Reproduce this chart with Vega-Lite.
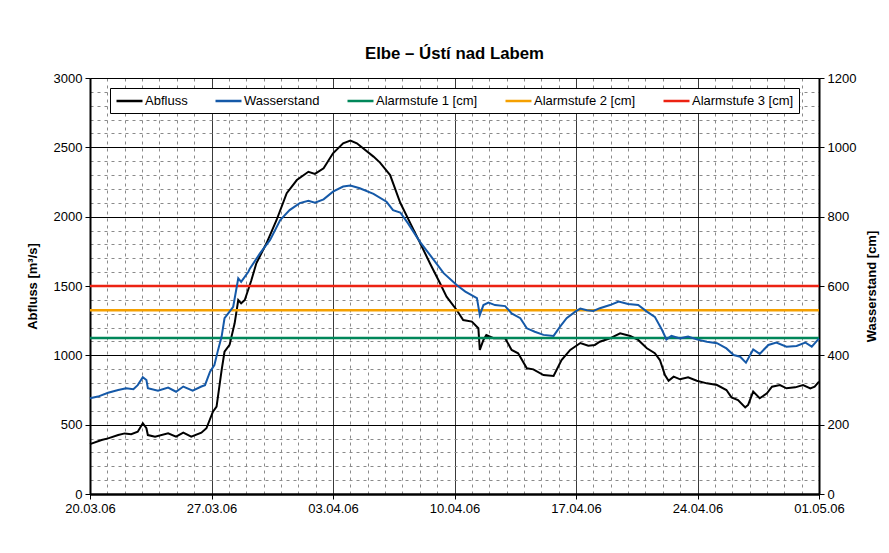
{
  "$schema": "https://vega.github.io/schema/vega-lite/v6.json",
  "width": 729,
  "height": 416,
  "autosize": {"type": "none"},
  "padding": {"left": 90, "top": 78, "right": 70, "bottom": 59},
  "background": "white",
  "title": {"text": "Elbe – Ústí nad Labem", "font": "Liberation Sans", "fontSize": 16.8, "fontWeight": "bold", "color": "black", "offset": 9},
  "config": {
    "font": "Liberation Sans",
    "view": {"stroke": null},
    "axis": {"labelFont": "Liberation Sans", "labelFontSize": 13, "labelColor": "black", "titleFont": "Liberation Sans", "titleFontSize": 13, "titleFontWeight": "bold", "titleColor": "black", "domainColor": "black", "tickColor": "black", "tickSize": 5, "labelPadding": 3}
  },
  "datasets": {
    "abfluss": [
      {"datum": "2006-03-20T00:00", "serie": "Abfluss", "wert": 360},
      {"datum": "2006-03-20T16:00", "serie": "Abfluss", "wert": 389},
      {"datum": "2006-03-21T01:00", "serie": "Abfluss", "wert": 401},
      {"datum": "2006-03-21T15:00", "serie": "Abfluss", "wert": 425},
      {"datum": "2006-03-22T00:00", "serie": "Abfluss", "wert": 437},
      {"datum": "2006-03-22T09:00", "serie": "Abfluss", "wert": 431},
      {"datum": "2006-03-22T18:00", "serie": "Abfluss", "wert": 449},
      {"datum": "2006-03-23T01:00", "serie": "Abfluss", "wert": 510},
      {"datum": "2006-03-23T06:00", "serie": "Abfluss", "wert": 474},
      {"datum": "2006-03-23T08:00", "serie": "Abfluss", "wert": 425},
      {"datum": "2006-03-23T18:00", "serie": "Abfluss", "wert": 413},
      {"datum": "2006-03-24T12:00", "serie": "Abfluss", "wert": 437},
      {"datum": "2006-03-24T23:00", "serie": "Abfluss", "wert": 413},
      {"datum": "2006-03-25T09:00", "serie": "Abfluss", "wert": 442},
      {"datum": "2006-03-25T20:00", "serie": "Abfluss", "wert": 413},
      {"datum": "2006-03-26T10:00", "serie": "Abfluss", "wert": 442},
      {"datum": "2006-03-26T17:00", "serie": "Abfluss", "wert": 474},
      {"datum": "2006-03-27T02:00", "serie": "Abfluss", "wert": 594},
      {"datum": "2006-03-27T07:00", "serie": "Abfluss", "wert": 630},
      {"datum": "2006-03-27T14:00", "serie": "Abfluss", "wert": 894},
      {"datum": "2006-03-27T18:00", "serie": "Abfluss", "wert": 1026},
      {"datum": "2006-03-28T01:00", "serie": "Abfluss", "wert": 1075},
      {"datum": "2006-03-28T08:00", "serie": "Abfluss", "wert": 1231},
      {"datum": "2006-03-28T13:00", "serie": "Abfluss", "wert": 1399},
      {"datum": "2006-03-28T17:00", "serie": "Abfluss", "wert": 1375},
      {"datum": "2006-03-28T22:00", "serie": "Abfluss", "wert": 1399},
      {"datum": "2006-03-29T07:00", "serie": "Abfluss", "wert": 1540},
      {"datum": "2006-03-29T14:00", "serie": "Abfluss", "wert": 1664},
      {"datum": "2006-03-30T04:00", "serie": "Abfluss", "wert": 1808},
      {"datum": "2006-03-30T18:00", "serie": "Abfluss", "wert": 1976},
      {"datum": "2006-03-31T08:00", "serie": "Abfluss", "wert": 2169},
      {"datum": "2006-03-31T22:00", "serie": "Abfluss", "wert": 2264},
      {"datum": "2006-04-01T14:00", "serie": "Abfluss", "wert": 2324},
      {"datum": "2006-04-01T23:00", "serie": "Abfluss", "wert": 2308},
      {"datum": "2006-04-02T11:00", "serie": "Abfluss", "wert": 2349},
      {"datum": "2006-04-03T00:00", "serie": "Abfluss", "wert": 2457},
      {"datum": "2006-04-03T14:00", "serie": "Abfluss", "wert": 2529},
      {"datum": "2006-04-04T00:00", "serie": "Abfluss", "wert": 2548},
      {"datum": "2006-04-04T09:00", "serie": "Abfluss", "wert": 2529},
      {"datum": "2006-04-05T08:00", "serie": "Abfluss", "wert": 2433},
      {"datum": "2006-04-05T17:00", "serie": "Abfluss", "wert": 2390},
      {"datum": "2006-04-06T07:00", "serie": "Abfluss", "wert": 2300},
      {"datum": "2006-04-06T21:00", "serie": "Abfluss", "wert": 2100},
      {"datum": "2006-04-07T11:00", "serie": "Abfluss", "wert": 1952},
      {"datum": "2006-04-08T00:00", "serie": "Abfluss", "wert": 1815},
      {"datum": "2006-04-08T14:00", "serie": "Abfluss", "wert": 1664},
      {"datum": "2006-04-09T04:00", "serie": "Abfluss", "wert": 1520},
      {"datum": "2006-04-09T13:00", "serie": "Abfluss", "wert": 1423},
      {"datum": "2006-04-10T03:00", "serie": "Abfluss", "wert": 1327},
      {"datum": "2006-04-10T12:00", "serie": "Abfluss", "wert": 1255},
      {"datum": "2006-04-11T00:00", "serie": "Abfluss", "wert": 1243},
      {"datum": "2006-04-11T09:00", "serie": "Abfluss", "wert": 1195},
      {"datum": "2006-04-11T11:00", "serie": "Abfluss", "wert": 1039},
      {"datum": "2006-04-11T16:00", "serie": "Abfluss", "wert": 1111},
      {"datum": "2006-04-11T20:00", "serie": "Abfluss", "wert": 1147},
      {"datum": "2006-04-12T06:00", "serie": "Abfluss", "wert": 1123},
      {"datum": "2006-04-12T22:00", "serie": "Abfluss", "wert": 1123},
      {"datum": "2006-04-13T07:00", "serie": "Abfluss", "wert": 1039},
      {"datum": "2006-04-13T16:00", "serie": "Abfluss", "wert": 1015},
      {"datum": "2006-04-14T04:00", "serie": "Abfluss", "wert": 907},
      {"datum": "2006-04-14T13:00", "serie": "Abfluss", "wert": 899},
      {"datum": "2006-04-15T03:00", "serie": "Abfluss", "wert": 858},
      {"datum": "2006-04-15T17:00", "serie": "Abfluss", "wert": 851},
      {"datum": "2006-04-16T04:00", "serie": "Abfluss", "wert": 966},
      {"datum": "2006-04-16T16:00", "serie": "Abfluss", "wert": 1039},
      {"datum": "2006-04-17T06:00", "serie": "Abfluss", "wert": 1089},
      {"datum": "2006-04-17T17:00", "serie": "Abfluss", "wert": 1070},
      {"datum": "2006-04-18T02:00", "serie": "Abfluss", "wert": 1075},
      {"datum": "2006-04-18T09:00", "serie": "Abfluss", "wert": 1098},
      {"datum": "2006-04-18T23:00", "serie": "Abfluss", "wert": 1123},
      {"datum": "2006-04-19T13:00", "serie": "Abfluss", "wert": 1159},
      {"datum": "2006-04-20T03:00", "serie": "Abfluss", "wert": 1139},
      {"datum": "2006-04-20T14:00", "serie": "Abfluss", "wert": 1111},
      {"datum": "2006-04-21T02:00", "serie": "Abfluss", "wert": 1051},
      {"datum": "2006-04-21T13:00", "serie": "Abfluss", "wert": 1015},
      {"datum": "2006-04-21T20:00", "serie": "Abfluss", "wert": 966},
      {"datum": "2006-04-22T03:00", "serie": "Abfluss", "wert": 858},
      {"datum": "2006-04-22T08:00", "serie": "Abfluss", "wert": 817},
      {"datum": "2006-04-22T15:00", "serie": "Abfluss", "wert": 846},
      {"datum": "2006-04-23T00:00", "serie": "Abfluss", "wert": 827},
      {"datum": "2006-04-23T11:00", "serie": "Abfluss", "wert": 842},
      {"datum": "2006-04-23T23:00", "serie": "Abfluss", "wert": 817},
      {"datum": "2006-04-24T13:00", "serie": "Abfluss", "wert": 798},
      {"datum": "2006-04-25T03:00", "serie": "Abfluss", "wert": 786},
      {"datum": "2006-04-25T16:00", "serie": "Abfluss", "wert": 750},
      {"datum": "2006-04-25T23:00", "serie": "Abfluss", "wert": 697},
      {"datum": "2006-04-26T08:00", "serie": "Abfluss", "wert": 678},
      {"datum": "2006-04-26T18:00", "serie": "Abfluss", "wert": 625},
      {"datum": "2006-04-26T22:00", "serie": "Abfluss", "wert": 642},
      {"datum": "2006-04-27T05:00", "serie": "Abfluss", "wert": 738},
      {"datum": "2006-04-27T14:00", "serie": "Abfluss", "wert": 690},
      {"datum": "2006-04-28T00:00", "serie": "Abfluss", "wert": 726},
      {"datum": "2006-04-28T07:00", "serie": "Abfluss", "wert": 774},
      {"datum": "2006-04-28T18:00", "serie": "Abfluss", "wert": 786},
      {"datum": "2006-04-29T03:00", "serie": "Abfluss", "wert": 762},
      {"datum": "2006-04-29T15:00", "serie": "Abfluss", "wert": 769},
      {"datum": "2006-04-30T02:00", "serie": "Abfluss", "wert": 786},
      {"datum": "2006-04-30T12:00", "serie": "Abfluss", "wert": 762},
      {"datum": "2006-04-30T18:00", "serie": "Abfluss", "wert": 774},
      {"datum": "2006-05-01T00:00", "serie": "Abfluss", "wert": 810}
    ],
    "wasser": [
      {"datum": "2006-03-20T00:00", "serie": "Wasserstand", "wert": 276},
      {"datum": "2006-03-20T11:00", "serie": "Wasserstand", "wert": 281},
      {"datum": "2006-03-21T01:00", "serie": "Wasserstand", "wert": 292},
      {"datum": "2006-03-21T15:00", "serie": "Wasserstand", "wert": 300},
      {"datum": "2006-03-22T02:00", "serie": "Wasserstand", "wert": 305},
      {"datum": "2006-03-22T12:00", "serie": "Wasserstand", "wert": 302},
      {"datum": "2006-03-22T18:00", "serie": "Wasserstand", "wert": 314},
      {"datum": "2006-03-23T01:00", "serie": "Wasserstand", "wert": 337},
      {"datum": "2006-03-23T06:00", "serie": "Wasserstand", "wert": 329},
      {"datum": "2006-03-23T08:00", "serie": "Wasserstand", "wert": 305},
      {"datum": "2006-03-23T22:00", "serie": "Wasserstand", "wert": 298},
      {"datum": "2006-03-24T12:00", "serie": "Wasserstand", "wert": 307},
      {"datum": "2006-03-24T23:00", "serie": "Wasserstand", "wert": 295},
      {"datum": "2006-03-25T09:00", "serie": "Wasserstand", "wert": 310},
      {"datum": "2006-03-25T22:00", "serie": "Wasserstand", "wert": 298},
      {"datum": "2006-03-26T10:00", "serie": "Wasserstand", "wert": 310},
      {"datum": "2006-03-26T15:00", "serie": "Wasserstand", "wert": 314},
      {"datum": "2006-03-26T22:00", "serie": "Wasserstand", "wert": 353},
      {"datum": "2006-03-27T04:00", "serie": "Wasserstand", "wert": 372},
      {"datum": "2006-03-27T09:00", "serie": "Wasserstand", "wert": 415},
      {"datum": "2006-03-27T14:00", "serie": "Wasserstand", "wert": 454},
      {"datum": "2006-03-27T18:00", "serie": "Wasserstand", "wert": 507},
      {"datum": "2006-03-28T01:00", "serie": "Wasserstand", "wert": 526},
      {"datum": "2006-03-28T06:00", "serie": "Wasserstand", "wert": 540},
      {"datum": "2006-03-28T13:00", "serie": "Wasserstand", "wert": 622},
      {"datum": "2006-03-28T17:00", "serie": "Wasserstand", "wert": 612},
      {"datum": "2006-03-29T03:00", "serie": "Wasserstand", "wert": 641},
      {"datum": "2006-03-29T05:00", "serie": "Wasserstand", "wert": 650},
      {"datum": "2006-03-29T19:00", "serie": "Wasserstand", "wert": 694},
      {"datum": "2006-03-30T09:00", "serie": "Wasserstand", "wert": 733},
      {"datum": "2006-03-30T23:00", "serie": "Wasserstand", "wert": 790},
      {"datum": "2006-03-31T12:00", "serie": "Wasserstand", "wert": 819},
      {"datum": "2006-04-01T02:00", "serie": "Wasserstand", "wert": 839},
      {"datum": "2006-04-01T14:00", "serie": "Wasserstand", "wert": 846},
      {"datum": "2006-04-01T23:00", "serie": "Wasserstand", "wert": 840},
      {"datum": "2006-04-02T11:00", "serie": "Wasserstand", "wert": 850},
      {"datum": "2006-04-03T00:00", "serie": "Wasserstand", "wert": 872},
      {"datum": "2006-04-03T14:00", "serie": "Wasserstand", "wert": 887},
      {"datum": "2006-04-04T00:00", "serie": "Wasserstand", "wert": 890},
      {"datum": "2006-04-04T13:00", "serie": "Wasserstand", "wert": 882},
      {"datum": "2006-04-05T08:00", "serie": "Wasserstand", "wert": 866},
      {"datum": "2006-04-06T02:00", "serie": "Wasserstand", "wert": 843},
      {"datum": "2006-04-06T11:00", "serie": "Wasserstand", "wert": 819},
      {"datum": "2006-04-06T21:00", "serie": "Wasserstand", "wert": 812},
      {"datum": "2006-04-07T08:00", "serie": "Wasserstand", "wert": 780},
      {"datum": "2006-04-08T00:00", "serie": "Wasserstand", "wert": 728},
      {"datum": "2006-04-08T14:00", "serie": "Wasserstand", "wert": 690},
      {"datum": "2006-04-09T09:00", "serie": "Wasserstand", "wert": 637},
      {"datum": "2006-04-10T03:00", "serie": "Wasserstand", "wert": 603},
      {"datum": "2006-04-10T15:00", "serie": "Wasserstand", "wert": 584},
      {"datum": "2006-04-11T07:00", "serie": "Wasserstand", "wert": 565},
      {"datum": "2006-04-11T11:00", "serie": "Wasserstand", "wert": 516},
      {"datum": "2006-04-11T16:00", "serie": "Wasserstand", "wert": 545},
      {"datum": "2006-04-11T23:00", "serie": "Wasserstand", "wert": 552},
      {"datum": "2006-04-12T08:00", "serie": "Wasserstand", "wert": 545},
      {"datum": "2006-04-12T22:00", "serie": "Wasserstand", "wert": 542},
      {"datum": "2006-04-13T07:00", "serie": "Wasserstand", "wert": 521},
      {"datum": "2006-04-13T19:00", "serie": "Wasserstand", "wert": 507},
      {"datum": "2006-04-14T04:00", "serie": "Wasserstand", "wert": 478},
      {"datum": "2006-04-14T15:00", "serie": "Wasserstand", "wert": 468},
      {"datum": "2006-04-15T03:00", "serie": "Wasserstand", "wert": 459},
      {"datum": "2006-04-15T17:00", "serie": "Wasserstand", "wert": 456},
      {"datum": "2006-04-16T02:00", "serie": "Wasserstand", "wert": 483},
      {"datum": "2006-04-16T11:00", "serie": "Wasserstand", "wert": 507},
      {"datum": "2006-04-16T23:00", "serie": "Wasserstand", "wert": 526},
      {"datum": "2006-04-17T06:00", "serie": "Wasserstand", "wert": 535},
      {"datum": "2006-04-17T15:00", "serie": "Wasserstand", "wert": 530},
      {"datum": "2006-04-18T00:00", "serie": "Wasserstand", "wert": 528},
      {"datum": "2006-04-18T09:00", "serie": "Wasserstand", "wert": 536},
      {"datum": "2006-04-18T23:00", "serie": "Wasserstand", "wert": 545},
      {"datum": "2006-04-19T11:00", "serie": "Wasserstand", "wert": 555},
      {"datum": "2006-04-20T00:00", "serie": "Wasserstand", "wert": 548},
      {"datum": "2006-04-20T14:00", "serie": "Wasserstand", "wert": 545},
      {"datum": "2006-04-21T02:00", "serie": "Wasserstand", "wert": 526},
      {"datum": "2006-04-21T13:00", "serie": "Wasserstand", "wert": 511},
      {"datum": "2006-04-21T23:00", "serie": "Wasserstand", "wert": 473},
      {"datum": "2006-04-22T05:00", "serie": "Wasserstand", "wert": 446},
      {"datum": "2006-04-22T12:00", "serie": "Wasserstand", "wert": 456},
      {"datum": "2006-04-23T00:00", "serie": "Wasserstand", "wert": 449},
      {"datum": "2006-04-23T11:00", "serie": "Wasserstand", "wert": 454},
      {"datum": "2006-04-23T23:00", "serie": "Wasserstand", "wert": 446},
      {"datum": "2006-04-24T13:00", "serie": "Wasserstand", "wert": 439},
      {"datum": "2006-04-25T03:00", "serie": "Wasserstand", "wert": 435},
      {"datum": "2006-04-25T16:00", "serie": "Wasserstand", "wert": 420},
      {"datum": "2006-04-26T02:00", "serie": "Wasserstand", "wert": 401},
      {"datum": "2006-04-26T11:00", "serie": "Wasserstand", "wert": 396},
      {"datum": "2006-04-26T19:00", "serie": "Wasserstand", "wert": 379},
      {"datum": "2006-04-27T05:00", "serie": "Wasserstand", "wert": 417},
      {"datum": "2006-04-27T14:00", "serie": "Wasserstand", "wert": 404},
      {"datum": "2006-04-28T02:00", "serie": "Wasserstand", "wert": 430},
      {"datum": "2006-04-28T13:00", "serie": "Wasserstand", "wert": 437},
      {"datum": "2006-04-29T03:00", "serie": "Wasserstand", "wert": 425},
      {"datum": "2006-04-29T17:00", "serie": "Wasserstand", "wert": 427},
      {"datum": "2006-04-30T05:00", "serie": "Wasserstand", "wert": 437},
      {"datum": "2006-04-30T14:00", "serie": "Wasserstand", "wert": 425},
      {"datum": "2006-04-30T22:00", "serie": "Wasserstand", "wert": 444},
      {"datum": "2006-05-01T00:00", "serie": "Wasserstand", "wert": 448}
    ],
    "alarm": [
      {"datum": "2006-03-20T00:00", "serie": "Alarmstufe 1 [cm]", "wert": 450},
      {"datum": "2006-05-01T00:00", "serie": "Alarmstufe 1 [cm]", "wert": 450},
      {"datum": "2006-03-20T00:00", "serie": "Alarmstufe 2 [cm]", "wert": 530},
      {"datum": "2006-05-01T00:00", "serie": "Alarmstufe 2 [cm]", "wert": 530},
      {"datum": "2006-03-20T00:00", "serie": "Alarmstufe 3 [cm]", "wert": 600},
      {"datum": "2006-05-01T00:00", "serie": "Alarmstufe 3 [cm]", "wert": 600}
    ]
  },
  "layer": [
    {
      "data": {"name": "abfluss"},
      "mark": {"type": "line", "strokeWidth": 2, "interpolate": "linear"},
      "encoding": {
        "x": {
          "field": "datum", "type": "temporal",
          "scale": {"domain": [{"year": 2006, "month": 3, "date": 20}, {"year": 2006, "month": 5, "date": 1}], "nice": false},
          "axis": {
            "title": null,
            "format": "%d.%m.%y",
            "tickCount": {"interval": "day", "step": 1},
            "labelExpr": "day(datum.value) === 1 ? datum.label : ''",
            "labelOverlap": false,
            "labelBound": false,
            "labelFlush": false,
            "labelPadding": 3,
            "domainWidth": 2.5,
            "tickOpacity": {"condition": {"test": "day(datum.value) === 1", "value": 1}, "value": 0},
            "grid": true,
            "gridColor": {"condition": {"test": "day(datum.value) === 1", "value": "#3a3a3a"}, "value": "#8a8a8a"},
            "gridDash": {"condition": {"test": "day(datum.value) === 1", "value": []}, "value": [3, 4]},
            "gridWidth": 1,
            "gridOpacity": 1
          }
        },
        "y": {
          "field": "wert", "type": "quantitative",
          "scale": {"domain": [0, 3000], "nice": false},
          "axis": {
            "title": "Abfluss [m³/s]",
            "orient": "left",
            "values": [0, 100, 200, 300, 400, 500, 600, 700, 800, 900, 1000, 1100, 1200, 1300, 1400, 1500, 1600, 1700, 1800, 1900, 2000, 2100, 2200, 2300, 2400, 2500, 2600, 2700, 2800, 2900, 3000],
            "format": "d",
            "labelExpr": "datum.value % 500 === 0 ? datum.label : ''",
            "tickOpacity": {"condition": {"test": "datum.value % 500 === 0", "value": 1}, "value": 0},
            "domainWidth": 2,
            "titlePadding": 14,
            "grid": true,
            "gridColor": {"condition": {"test": "datum.value % 500 === 0", "value": "#000000"}, "value": "#8a8a8a"},
            "gridDash": {"condition": {"test": "datum.value % 500 === 0", "value": []}, "value": [3, 4]},
            "gridWidth": 1,
            "gridOpacity": 1
          }
        },
        "color": {
          "field": "serie", "type": "nominal",
          "scale": {"domain": ["Abfluss", "Wasserstand", "Alarmstufe 1 [cm]", "Alarmstufe 2 [cm]", "Alarmstufe 3 [cm]"], "range": ["#000000", "#1559a8", "#00875a", "#f5a000", "#ec2212"]},
          "legend": {
            "title": null,
            "orient": "none",
            "legendX": 20,
            "legendY": 10,
            "direction": "horizontal",
            "columns": 5,
            "symbolType": "M-1,0H3",
            "symbolSize": 169,
            "symbolStrokeWidth": 2.5,
            "labelFont": "Liberation Sans",
            "labelFontSize": 13,
            "labelColor": "black",
            "labelOffset": 14,
            "columnPadding": 22,
            "padding": 5,
            "strokeColor": "black",
            "fillColor": "white",
            "labelLimit": 300
          }
        }
      }
    },
    {
      "layer": [
        {
          "data": {"name": "alarm"},
          "mark": {"type": "line", "strokeWidth": 2.5},
          "encoding": {
            "x": {"field": "datum", "type": "temporal"},
            "y": {
              "field": "wert", "type": "quantitative",
              "scale": {"domain": [0, 1200], "nice": false},
              "axis": {
                "title": "Wasserstand [cm]",
                "orient": "right",
                "values": [0, 200, 400, 600, 800, 1000, 1200],
                "format": "d",
                "grid": false,
                "domainWidth": 2,
                "titleAngle": 270,
                "titlePadding": 23
              }
            },
            "color": {"field": "serie", "type": "nominal"}
          }
        },
        {
          "data": {"name": "wasser"},
          "mark": {"type": "line", "strokeWidth": 2},
          "encoding": {
            "x": {"field": "datum", "type": "temporal"},
            "y": {"field": "wert", "type": "quantitative"},
            "color": {"field": "serie", "type": "nominal"}
          }
        }
      ]
    }
  ],
  "resolve": {"scale": {"y": "independent"}}
}
